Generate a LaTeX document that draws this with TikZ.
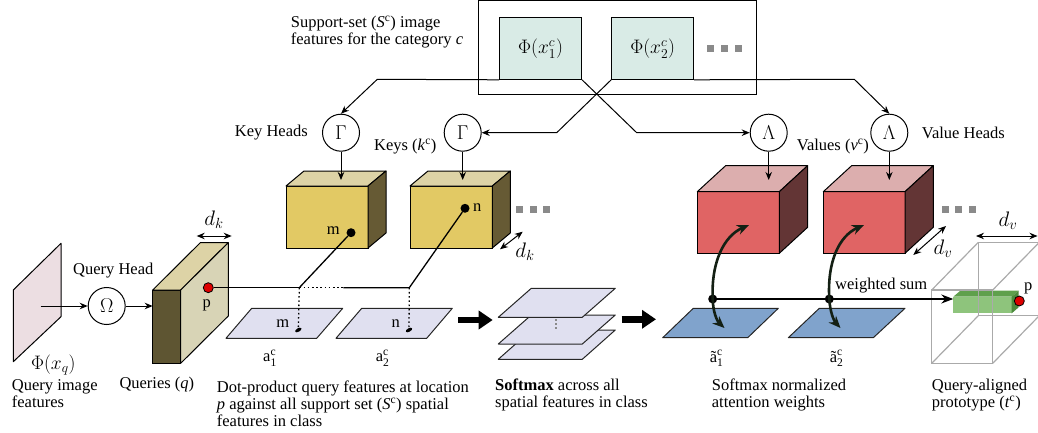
\RequirePackage{fix-cm}
\documentclass[tikz,border=0pt]{standalone}
\usepackage{amsmath}
\usepackage{fontspec}
\setmainfont{Liberation Serif}
\usetikzlibrary{arrows.meta,shapes.geometric}

\definecolor{supfill}{HTML}{D9EBE6}
\definecolor{yfront}{HTML}{E2C964}
\definecolor{ytop}{HTML}{DDD3A6}
\definecolor{yside}{HTML}{665A34}
\definecolor{qfront}{HTML}{5E5532}
\definecolor{qside}{HTML}{D8D4B6}
\definecolor{qtop}{HTML}{DDD3A6}
\definecolor{rfront}{HTML}{E06464}
\definecolor{rtop}{HTML}{DCAEAE}
\definecolor{rside}{HTML}{633535}
\definecolor{lav}{HTML}{E0E0F0}
\definecolor{bluep}{HTML}{80A3CC}
\definecolor{pinkp}{HTML}{ECDEE2}
\definecolor{gfront}{HTML}{8EC47C}
\definecolor{gtop}{HTML}{5FA04C}
\definecolor{gside}{HTML}{4C8A3C}
\definecolor{dotgray}{HTML}{8A8A8A}
\definecolor{wire}{HTML}{AAAAAA}
\definecolor{curvec}{HTML}{142014}
\definecolor{pred}{HTML}{DD0000}

\begin{document}
\begin{tikzpicture}[x=1pt,y=-1pt,
  every node/.style={font=\fontsize{16.5}{17}\selectfont},
  lw/.style={line width=1pt,line join=round},
  arr/.style={line width=1pt,-{Stealth[length=8pt,width=6.5pt]}},
  darr/.style={line width=1pt,{Stealth[length=8pt,width=6.5pt]}-{Stealth[length=8pt,width=6.5pt]}},
  head/.style={circle,draw,line width=1pt,minimum size=37pt,inner sep=0pt,font=\fontsize{20}{20}\selectfont},
  supbox/.style={draw,line width=1pt,fill=supfill,minimum width=82pt,minimum height=62pt,inner sep=0pt,font=\fontsize{19.5}{19.5}\selectfont},
  facebox/.style={draw,line width=1pt,inner sep=0pt,outer sep=0pt,anchor=north west},
  txt/.style={inner sep=0pt,align=left,anchor=west},
  gsq/.style={fill=dotgray,minimum size=7pt,inner sep=0pt},
  bigarr/.style={line width=6.5pt,-{Triangle[length=14pt,width=18pt]}},
  curv/.style={line width=2.6pt,draw=curvec,-{Stealth[length=12pt,width=10pt]}},
  mathlab/.style={inner sep=0pt,font=\fontsize{21}{21}\selectfont},
  dotb/.style={circle,fill=black,minimum size=9pt,inner sep=0pt},
  reddot/.style={circle,fill=pred,draw=black,line width=0.8pt,minimum size=10pt,inner sep=0pt},
  pmark/.style={ellipse,fill=black,minimum width=7pt,minimum height=3.5pt,inner sep=0pt,rotate=30},
  plane/.style={line width=1pt,line join=round,draw=black!85},
  dotln/.style={line width=1.3pt,dash pattern=on 1.6pt off 2.6pt},
]
\useasboundingbox (0,0) rectangle (1038,433);

% ---------- support set ----------
\node[draw,line width=1pt,minimum width=278.4pt,minimum height=94.5pt,inner sep=0pt,outer sep=0pt,anchor=north west] (supp) at (478.3,0.5) {};
\node[supbox] (phi1) at (540.5,48.3) {$\Phi(x_1^c)$};
\node[supbox] (phi2) at (652.7,48.3) {$\Phi(x_2^c)$};
\node[gsq] (sd1) at (710.2,49) {};
\node[gsq] (sd2) at (724.2,49) {};
\node[gsq] (sd3) at (738.2,49) {};
\node[txt] (supptxt) at (290.7,32.4) {Support-set (\textit{S}\textsuperscript{c}) image\\features for the category \textit{c}};

% ---------- heads ----------
\node[head] (gam1) at (341,132.7) {$\Gamma$};
\node[head] (gam2) at (462.7,132.7) {$\Gamma$};
\node[head] (lam1) at (768.7,132.7) {$\Lambda$};
\node[head] (lam2) at (889.3,132.7) {$\Lambda$};
\node[inner sep=0pt,anchor=east] (kh) at (308,132.7) {Key Heads};
\node[txt] (keys) at (374,146.7) {Keys (\textit{k}\textsuperscript{c})};
\node[txt] (vals) at (796.7,146.7) {Values (\textit{v}\textsuperscript{c})};
\node[txt] (vh) at (921.7,132.7) {Value Heads};

\coordinate (k1) at (377.3,79.3);
\coordinate (k2) at (556.7,132.7);
\coordinate (v1c) at (636.7,132.7);
\coordinate (v2c) at (854.3,79.3);
\draw[arr] (phi1.south west) -- (k1) -- (gam1.north);
\draw[arr] (phi2.south west) -- (k2) -- (gam2.east);
\draw[arr] (phi1.south east) -- (v1c) -- (lam1.west);
\draw[arr] (phi2.south east) -- (v2c) -- (lam2.north);

% ---------- key cubes ----------
\node[facebox,fill=yfront,minimum width=82pt,minimum height=62pt] (key1) at (286,186) {};
\draw[lw,fill=ytop] (key1.north west) -- ++(18,-15) -- ++(82,0) -- (key1.north east) -- cycle;
\draw[lw,fill=yside] (key1.north east) -- ++(18,-15) -- ++(0,62) -- (key1.south east) -- cycle;
\node[facebox,fill=yfront,minimum width=82.3pt,minimum height=62pt] (key2) at (410,186) {};
\draw[lw,fill=ytop] (key2.north west) -- ++(18,-15) -- ++(82.3,0) -- (key2.north east) -- cycle;
\draw[lw,fill=yside] (key2.north east) -- ++(18,-15) -- ++(0,62) -- (key2.south east) -- cycle;
\coordinate (key1in) at (341,180);
\coordinate (key2in) at (462.7,180);
\draw[arr] (gam1) -- (key1in);
\draw[arr] (gam2) -- (key2in);
\node[gsq] (kd1) at (519.5,209.3) {};
\node[gsq] (kd2) at (533,209.3) {};
\node[gsq] (kd3) at (546.5,209.3) {};
\coordinate (dk2a) at (500,249.3);
\coordinate (dk2b) at (522.7,231.7);
\draw[darr] (dk2a) -- (dk2b);
\node[mathlab] (dklab2) at (525,252) {$d_k$};

% ---------- value cubes ----------
\node[facebox,fill=rfront,minimum width=82pt,minimum height=61.6pt] (val1) at (697.3,191.7) {};
\draw[lw,fill=rtop] (val1.north west) -- ++(28.3,-26) -- ++(82,0) -- (val1.north east) -- cycle;
\draw[lw,fill=rside] (val1.north east) -- ++(28.3,-26) -- ++(0,61.6) -- (val1.south east) -- cycle;
\node[facebox,fill=rfront,minimum width=81.7pt,minimum height=61.6pt] (val2) at (823.3,191.7) {};
\draw[lw,fill=rtop] (val2.north west) -- ++(28.3,-26) -- ++(81.7,0) -- (val2.north east) -- cycle;
\draw[lw,fill=rside] (val2.north east) -- ++(28.3,-26) -- ++(0,61.6) -- (val2.south east) -- cycle;
\coordinate (val1in) at (768.7,180);
\coordinate (val2in) at (889.3,180);
\draw[arr] (lam1) -- (val1in);
\draw[arr] (lam2) -- (val2in);
\node[gsq] (vd1) at (945.2,209) {};
\node[gsq] (vd2) at (958.7,209) {};
\node[gsq] (vd3) at (972.2,209) {};
\coordinate (dv2a) at (913.3,255);
\coordinate (dv2b) at (946,226);
\draw[darr] (dv2a) -- (dv2b);
\node[mathlab] (dvlab2) at (943,249) {$d_v$};

% ---------- query side ----------
\draw[lw,fill=pinkp] (13.3,361.7) -- (13.3,290) -- (61,243.3) -- (61,316.7) -- cycle;
\coordinate (qimg) at (40.7,306);
\node[head] (omega) at (106.7,306) {$\Omega$};
\node[inner sep=0pt] (qh) at (113.3,271) {Query Head};
\node[inner sep=0pt,font=\fontsize{19.5}{19.5}\selectfont] (phiq) at (53.3,365) {$\Phi(x_q)$};
\node[txt] (qit) at (11.7,394) {Query image\\features};
\node[txt] (qt) at (119.3,385) {Queries (\textit{q})};

\node[facebox,fill=qfront,minimum width=28pt,minimum height=73.3pt] (qry) at (152.7,290) {};
\draw[lw,fill=qtop] (qry.north west) -- ++(47.6,-47.3) -- ++(28,0) -- (qry.north east) -- cycle;
\draw[lw,fill=qside] (qry.north east) -- ++(47.6,-47.3) -- ++(0,73.3) -- (qry.south east) -- cycle;
\coordinate (qin) at (152.7,306);
\draw[arr] (qimg) -- (omega);
\draw[arr] (omega) -- (qin);
\coordinate (dk1a) at (196.7,236);
\coordinate (dk1b) at (231.7,236);
\draw[darr] (dk1a) -- (dk1b);
\node[mathlab] (dklab1) at (214,220) {$d_k$};

% ---------- dot products ----------
\draw[plane,fill=lav] (226,338.3) -- (316.7,338.3) -- (342.7,308.3) -- (251.7,308.3) -- cycle;
\draw[plane,fill=lav] (336,338.3) -- (426.7,338.3) -- (452.3,308.3) -- (361.7,308.3) -- cycle;
\node[inner sep=0pt] (mpl) at (282.7,324) {m};
\node[inner sep=0pt] (npl) at (395.7,324) {n};
\node[pmark] (mm) at (298.3,330) {};
\node[pmark] (nn) at (409,330) {};
\node[inner sep=0pt] (a1) at (270,358.3) {$\text{a}_{\text{1}}^{\text{c}}$};
\node[inner sep=0pt] (a2) at (382.7,358.3) {$\text{a}_{\text{2}}^{\text{c}}$};

\node[dotb] (mk) at (351,232.7) {};
\node[inner sep=0pt] (mklab) at (333.3,231) {m};
\node[dotb] (nk) at (465,208.3) {};
\node[inner sep=0pt] (nklab) at (477.3,207.7) {n};

\coordinate (j1) at (299.3,287.7);
\coordinate (j1b) at (343.3,287.7);
\coordinate (j2) at (409.3,287.7);
\draw[line width=1.3pt] (j1) -- (mk);
\draw[line width=1.3pt] (j1b) -- (j2) -- (nk);
\draw[dotln] (j1) -- (j1b);
\draw[dotln] (j1) -- (mm);
\draw[dotln] (j2) -- (nn);
\node[reddot] (pq) at (208.3,287.7) {};
\draw[line width=1.3pt] (pq) -- (j1);
\node[inner sep=0pt] (plab) at (206.7,305) {p};

\node[txt] (dpt) at (216.7,404) {Dot-product query features at location\\\textit{p} against all support set (\textit{S}\textsuperscript{c}) spatial\\features in class};

% ---------- softmax ----------
\coordinate (fa1s) at (458.3,320);
\coordinate (fa1e) at (492.7,320);
\draw[bigarr] (fa1s) -- (fa1e);
\draw[plane,fill=lav] (498.3,359.3) -- (582.3,359.3) -- (615.3,330) -- (531.3,330) -- cycle;
\draw[plane,fill=lav] (498.3,344) -- (582.3,344) -- (615.3,315) -- (531.3,315) -- cycle;
\draw[plane,fill=lav] (498.3,317.3) -- (582.3,317.3) -- (615.3,288.3) -- (531.3,288.3) -- cycle;
\draw[dotgray,line width=1.5pt,dash pattern=on 2pt off 2.2pt] (556,319) -- (556,331);
\coordinate (fa2s) at (621.7,319.3);
\coordinate (fa2e) at (656,319.3);
\draw[bigarr] (fa2s) -- (fa2e);
\node[txt] (smt) at (495,395.3) {\textbf{Softmax} across all\\spatial features in class};

% ---------- attention weights ----------
\draw[plane,fill=bluep] (662.7,337.7) -- (747.7,337.7) -- (778.3,308.3) -- (693.3,308.3) -- cycle;
\draw[plane,fill=bluep] (788.3,337.7) -- (873.3,337.7) -- (905,308.3) -- (819.3,308.3) -- cycle;
\node[inner sep=0pt] (at1) at (716.7,358.3) {$\text{ã}_{\text{1}}^{\text{c}}$};
\node[inner sep=0pt] (at2) at (836.7,358.3) {$\text{ã}_{\text{2}}^{\text{c}}$};
\node[txt] (snt) at (711.7,395.3) {Softmax normalized\\attention weights};

% ---------- prototype ----------
\node[draw=none,fill=gfront,minimum width=58.4pt,minimum height=16.6pt,inner sep=0pt,outer sep=0pt,anchor=north west] (gbox) at (953.3,296.7) {};
\draw[fill=gtop,draw=none] (gbox.north west) -- ++(7,-6) -- ++(58.4,0) -- (gbox.north east) -- cycle;
\draw[fill=gside,draw=none] (gbox.north east) -- ++(7,-6) -- ++(0,16.6) -- (gbox.south east) -- cycle;
\begin{scope}[draw=wire,line width=1.2pt]
\draw (978.3,242.3) rectangle (1039.3,315.7);
\draw (931.7,290) -- (978.3,242.3);
\draw (992.7,290) -- (1039.3,242.3);
\draw (931.7,363.3) -- (978.3,315.7);
\draw (992.7,363.3) -- (1039.3,315.7);
\draw (931.7,290) rectangle (992.7,363.3);
\end{scope}
\node[reddot] (pg) at (1019.3,301) {};
\node[inner sep=0pt] (pglab) at (1028.3,288.3) {p};
\coordinate (dv1a) at (976,236);
\coordinate (dv1b) at (1037.5,236);
\draw[darr] (dv1a) -- (dv1b);
\node[mathlab] (dvlab1) at (1008,221) {$d_v$};
\node[txt] (qat) at (931.7,395.3) {Query-aligned\\prototype (\textit{t}\textsuperscript{c})};

% ---------- weighted sum ----------
\node[dotb] (w1) at (712.7,299) {};
\node[dotb] (w2) at (829.3,299) {};
\coordinate (gin) at (953.3,299);
\draw[line width=1.3pt,-{Stealth[length=12pt,width=9pt]}] (w1) -- (gin);
\node[txt] (ws) at (835,285.7) {weighted sum};
\coordinate (r1in) at (749,225);
\coordinate (b1in) at (724.5,328);
\coordinate (r2in) at (864,225);
\coordinate (b2in) at (840.5,328);
\draw[curv] (w1.center) .. controls (711,262) and (724,236) .. (r1in);
\draw[curv] (w1.center) .. controls (713,312) and (717,321) .. (b1in);
\draw[curv] (w2.center) .. controls (827,262) and (839,236) .. (r2in);
\draw[curv] (w2.center) .. controls (830,312) and (834,321) .. (b2in);
\end{tikzpicture}
\end{document}
